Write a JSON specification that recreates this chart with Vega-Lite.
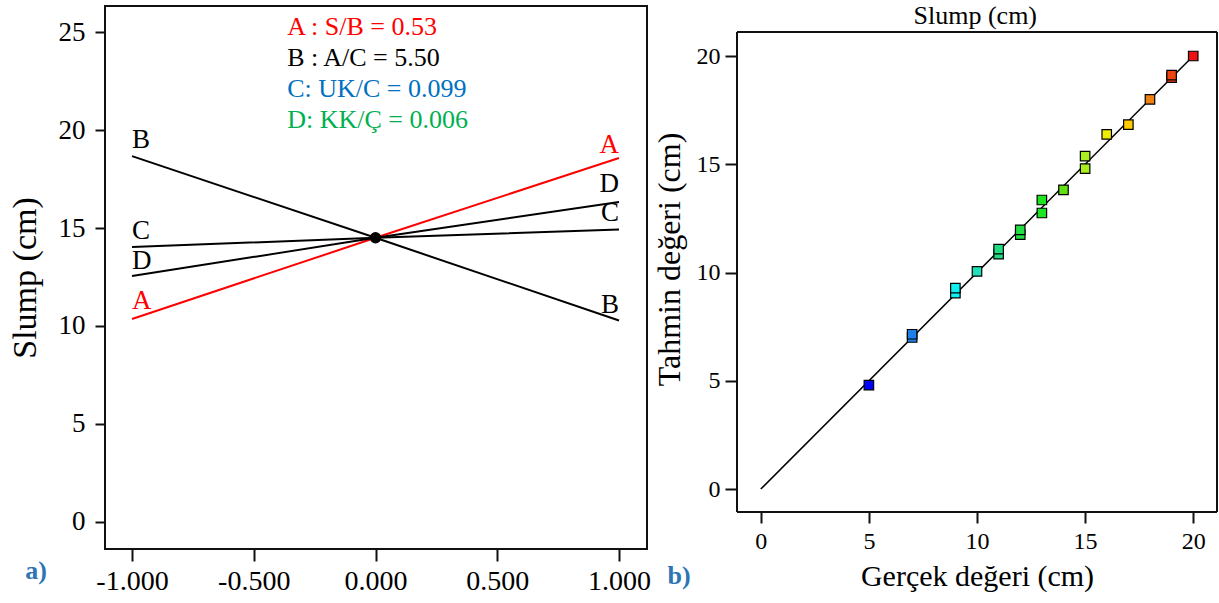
{
  "$schema": "https://vega.github.io/schema/vega-lite/v6.json",
  "padding": {"left": 7, "top": 2, "right": 0, "bottom": 0},
  "spacing": 1,
  "background": "#ffffff",
  "config": {
    "font": "Liberation Serif",
    "view": {"stroke": "#111111", "strokeWidth": 2},
    "axis": {
      "domain": false,
      "grid": false,
      "tickColor": "#111111",
      "tickWidth": 2,
      "labelColor": "#000000",
      "titleColor": "#000000",
      "titleFontWeight": "normal",
      "labelFont": "Liberation Serif",
      "titleFont": "Liberation Serif"
    }
  },
  "datasets": {
    "lines": [
      {"factor": "A", "x": -1, "y": 10.36},
      {"factor": "A", "x": 0, "y": 14.5},
      {"factor": "A", "x": 1, "y": 18.57},
      {"factor": "B", "x": -1, "y": 18.67},
      {"factor": "B", "x": 0, "y": 14.5},
      {"factor": "B", "x": 1, "y": 10.28},
      {"factor": "C", "x": -1, "y": 14.03},
      {"factor": "C", "x": 0, "y": 14.5},
      {"factor": "C", "x": 1, "y": 14.92},
      {"factor": "D", "x": -1, "y": 12.55},
      {"factor": "D", "x": 0, "y": 14.5},
      {"factor": "D", "x": 1, "y": 16.33}
    ],
    "lbl": [
      {"factor": "B", "x": -1, "y": 19.5},
      {"factor": "C", "x": -1, "y": 14.85},
      {"factor": "D", "x": -1, "y": 13.3},
      {"factor": "A", "x": -1, "y": 11.27},
      {"factor": "A", "x": 1, "y": 19.23},
      {"factor": "D", "x": 1, "y": 17.24},
      {"factor": "C", "x": 1, "y": 15.77},
      {"factor": "B", "x": 1, "y": 11.07}
    ],
    "legend": [
      {"factor": "A", "t": "A : S/B = 0.53", "x": -0.363, "y": 24.85},
      {"factor": "B", "t": "B : A/C = 5.50", "x": -0.363, "y": 23.27},
      {"factor": "C", "t": "C: UK/C = 0.099", "x": -0.363, "y": 21.68},
      {"factor": "D", "t": "D: KK/Ç = 0.006", "x": -0.363, "y": 20.1}
    ],
    "pts": [
      {"actual": 5, "pred": 4.8},
      {"actual": 7, "pred": 7.0},
      {"actual": 7, "pred": 7.15},
      {"actual": 9, "pred": 9.05},
      {"actual": 9, "pred": 9.28},
      {"actual": 10, "pred": 10.05},
      {"actual": 11, "pred": 10.85},
      {"actual": 11, "pred": 11.08},
      {"actual": 12, "pred": 11.75},
      {"actual": 12, "pred": 11.97},
      {"actual": 13, "pred": 12.75},
      {"actual": 13, "pred": 13.35},
      {"actual": 14, "pred": 13.82},
      {"actual": 15, "pred": 14.8},
      {"actual": 15, "pred": 15.38},
      {"actual": 16, "pred": 16.38},
      {"actual": 17, "pred": 16.83},
      {"actual": 18, "pred": 18.0},
      {"actual": 19, "pred": 19.0},
      {"actual": 19, "pred": 19.12},
      {"actual": 20, "pred": 20.0}
    ]
  },
  "hconcat": [
    {
      "width": 542,
      "height": 543,
      "layer": [
        {
          "data": {"name": "lines"},
          "mark": {"type": "line", "strokeWidth": 2},
          "encoding": {
            "x": {
              "field": "x", "type": "quantitative",
              "scale": {"domain": [-1.111, 1.115], "nice": false, "zero": false},
              "axis": {
                "values": [-1, -0.5, 0, 0.5, 1],
                "labelExpr": "replace(format(datum.value, '.3f'), '\u2212', '-')",
                "labelFontSize": 28, "tickSize": 12, "labelPadding": 6, "title": null
              }
            },
            "y": {
              "field": "y", "type": "quantitative",
              "scale": {"domain": [-1.38, 26.33], "nice": false, "zero": false},
              "axis": {
                "values": [0, 5, 10, 15, 20, 25],
                "labelFontSize": 27, "tickSize": 10, "labelPadding": 10,
                "title": "Slump (cm)", "titleFontSize": 34, "titlePadding": 16
              }
            },
            "color": {
              "field": "factor", "type": "nominal",
              "scale": {"domain": ["A", "B", "C", "D"], "range": ["#ff0000", "#000000", "#000000", "#000000"]},
              "legend": null
            }
          }
        },
        {
          "data": {"values": [{"x": 0, "y": 14.5}]},
          "mark": {"type": "point", "filled": true, "size": 130, "color": "#000000", "opacity": 1},
          "encoding": {
            "x": {"field": "x", "type": "quantitative"},
            "y": {"field": "y", "type": "quantitative"}
          }
        },
        {
          "data": {"name": "lbl"},
          "transform": [{"filter": "datum.x < 0"}],
          "mark": {"type": "text", "align": "left", "baseline": "middle", "fontSize": 27},
          "encoding": {
            "x": {"field": "x", "type": "quantitative"},
            "y": {"field": "y", "type": "quantitative"},
            "text": {"field": "factor"},
            "color": {
              "field": "factor", "type": "nominal",
              "scale": {"domain": ["A", "B", "C", "D"], "range": ["#ff0000", "#000000", "#000000", "#000000"]},
              "legend": null
            }
          }
        },
        {
          "data": {"name": "lbl"},
          "transform": [{"filter": "datum.x > 0"}],
          "mark": {"type": "text", "align": "right", "baseline": "middle", "fontSize": 27},
          "encoding": {
            "x": {"field": "x", "type": "quantitative"},
            "y": {"field": "y", "type": "quantitative"},
            "text": {"field": "factor"},
            "color": {
              "field": "factor", "type": "nominal",
              "scale": {"domain": ["A", "B", "C", "D"], "range": ["#ff0000", "#000000", "#000000", "#000000"]},
              "legend": null
            }
          }
        },
        {
          "data": {"name": "legend"},
          "mark": {"type": "text", "align": "left", "baseline": "alphabetic", "fontSize": 26},
          "encoding": {
            "x": {"field": "x", "type": "quantitative"},
            "y": {"field": "y", "type": "quantitative"},
            "text": {"field": "t"},
            "color": {
              "field": "factor", "type": "nominal",
              "scale": {"domain": ["A", "B", "C", "D"], "range": ["#ff0000", "#000000", "#0070c0", "#00b050"]},
              "legend": null
            }
          }
        },
        {
          "data": {"values": [{"x": -1.394, "y": -2.9, "t": "a)"}]},
          "mark": {"type": "text", "align": "center", "baseline": "alphabetic", "fontSize": 26, "fontWeight": "bold", "color": "#2e75b6"},
          "encoding": {
            "x": {"field": "x", "type": "quantitative"},
            "y": {"field": "y", "type": "quantitative"},
            "text": {"field": "t"}
          }
        }
      ],
      "resolve": {"scale": {"color": "independent"}}
    },
    {
      "width": 480,
      "height": 506,
      "view": {"stroke": null},
      "layer": [
        {
          "data": {"values": [{"actual": 0, "pred": 0}, {"actual": 20, "pred": 20}]},
          "mark": {"type": "line", "color": "#000000", "strokeWidth": 1.5},
          "encoding": {
            "x": {
              "field": "actual", "type": "quantitative",
              "scale": {"domain": [-1.1, 21.1], "nice": false, "zero": false},
              "axis": {
                "values": [0, 5, 10, 15, 20],
                "labelFontSize": 24, "tickSize": 11, "labelPadding": 6,
                "title": "Gerçek değeri (cm)", "titleFontSize": 30, "titlePadding": 8
              }
            },
            "y": {
              "field": "pred", "type": "quantitative",
              "scale": {"domain": [-1.06, 22.31], "nice": false, "zero": false},
              "axis": {
                "values": [0, 5, 10, 15, 20],
                "labelFontSize": 24, "tickSize": 12, "labelPadding": 5,
                "title": "Tahmin değeri (cm)", "titleFontSize": 32, "titlePadding": 10
              }
            }
          }
        },
        {
          "data": {"values": [{}]},
          "mark": {"type": "rule", "color": "#111111", "strokeWidth": 2},
          "encoding": {
            "x": {"datum": -1.1, "type": "quantitative"},
            "x2": {"datum": 21.1},
            "y": {"datum": 21.11, "type": "quantitative"}
          }
        },
        {
          "data": {"values": [{}]},
          "mark": {"type": "rule", "color": "#111111", "strokeWidth": 2},
          "encoding": {
            "x": {"datum": -1.1, "type": "quantitative"},
            "x2": {"datum": 21.1},
            "y": {"datum": -1.06, "type": "quantitative"}
          }
        },
        {
          "data": {"values": [{}]},
          "mark": {"type": "rule", "color": "#111111", "strokeWidth": 2},
          "encoding": {
            "x": {"datum": -1.1, "type": "quantitative"},
            "y": {"datum": -1.06, "type": "quantitative"},
            "y2": {"datum": 21.11}
          }
        },
        {
          "data": {"values": [{}]},
          "mark": {"type": "rule", "color": "#111111", "strokeWidth": 2},
          "encoding": {
            "x": {"datum": 21.1, "type": "quantitative"},
            "y": {"datum": -1.06, "type": "quantitative"},
            "y2": {"datum": 21.11}
          }
        },
        {
          "data": {"values": [{}]},
          "mark": {"type": "text", "align": "center", "baseline": "alphabetic", "fontSize": 26, "color": "#000000"},
          "encoding": {
            "x": {"datum": 9.92, "type": "quantitative"},
            "y": {"datum": 21.48, "type": "quantitative"},
            "text": {"datum": "Slump (cm)"}
          }
        },
        {
          "data": {"name": "pts"},
          "mark": {"type": "point", "shape": "square", "filled": true, "size": 90, "stroke": "#000000", "strokeWidth": 1.2, "opacity": 1},
          "encoding": {
            "x": {"field": "actual", "type": "quantitative"},
            "y": {"field": "pred", "type": "quantitative"},
            "color": {
              "field": "actual", "type": "quantitative",
              "scale": {
                "domain": [5, 7, 9, 10, 11, 12, 13, 14, 15, 16, 17, 18, 19, 20],
                "range": ["#0000ff", "#1f80e8", "#10f0f0", "#20e0b8", "#20dc80", "#22dd44", "#1ee61e", "#60e010", "#aaee22", "#eeee00", "#ffcc00", "#f08010", "#ee4411", "#ee1111"],
                "interpolate": "rgb"
              },
              "legend": null
            }
          }
        },
        {
          "data": {"values": [{"actual": -3.78, "pred": -4.39, "t": "b)"}]},
          "mark": {"type": "text", "align": "center", "baseline": "alphabetic", "fontSize": 26, "fontWeight": "bold", "color": "#2e75b6"},
          "encoding": {
            "x": {"field": "actual", "type": "quantitative"},
            "y": {"field": "pred", "type": "quantitative"},
            "text": {"field": "t"}
          }
        }
      ]
    }
  ]
}
